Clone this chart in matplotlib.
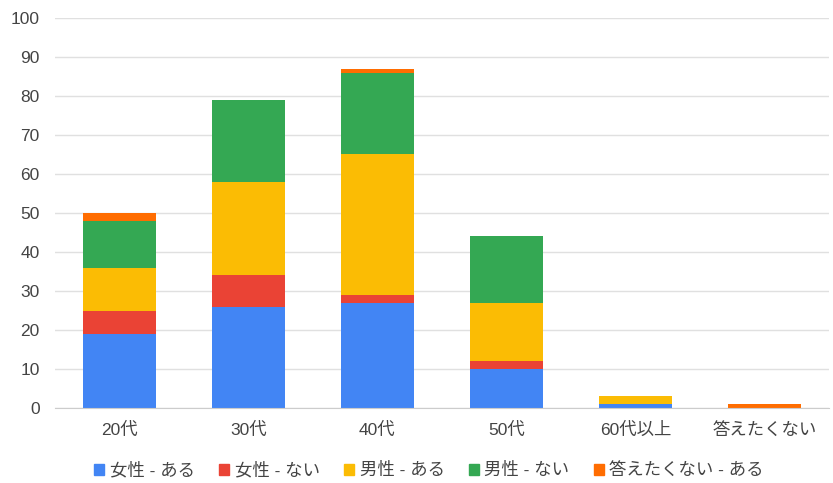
import numpy as np
import matplotlib
matplotlib.use("Agg")
import matplotlib.pyplot as plt
from matplotlib.patches import Patch

plt.rcParams['font.family'] = ['Liberation Sans', 'Noto Sans CJK JP', 'DejaVu Sans']

categories = ["20代", "30代", "40代", "50代", "60代以上", "答えたくない"]
series_names = ["女性 - ある", "女性 - ない", "男性 - ある", "男性 - ない", "答えたくない - ある"]
female_yes = [19, 26, 27, 10, 1, 0]
female_no = [6, 8, 2, 2, 0, 0]
male_yes = [11, 24, 36, 15, 2, 0]
male_no = [12, 21, 21, 17, 0, 0]
noans_yes = [2, 0, 1, 0, 0, 1]
colors = ["#4285F4", "#EA4335", "#FBBC04", "#34A853", "#FF6D01"]

series = [female_yes, female_no, male_yes, male_no, noans_yes]

fig = plt.figure(figsize=(8.33, 4.83), dpi=100)
ax = fig.add_axes([0.066, 0.155, 0.929, 0.808])

x = np.arange(len(categories))
bottom = np.zeros(len(categories))
for vals, col in zip(series, colors):
    ax.bar(x, vals, 0.57, bottom=bottom, color=col, zorder=2)
    bottom += np.array(vals)

ax.set_xlim(-0.5, len(categories) - 0.5)
ax.set_ylim(0, 100)
ax.set_yticks(range(0, 101, 10))
ax.set_xticks(x)
ax.set_xticklabels(categories)
ax.grid(axis='y', color='#e0e0e0', linewidth=1, zorder=0)
ax.tick_params(length=0, labelsize=12.5, colors='#444444')
ax.tick_params(axis='x', pad=10)
ax.tick_params(axis='y', pad=11)
for s in ['top', 'right', 'left']:
    ax.spines[s].set_visible(False)
ax.spines['bottom'].set_color('#cccccc')

handles = [Patch(color=c) for c in colors]
fig.legend(handles, series_names, loc='center', bbox_to_anchor=(0.515, 0.027),
           ncol=5, frameon=False, fontsize=12.5, handlelength=0.6, handleheight=0.6,
           handletextpad=0.3, columnspacing=1.4, labelcolor='#444444')

fig.savefig("out.png", dpi=100)
